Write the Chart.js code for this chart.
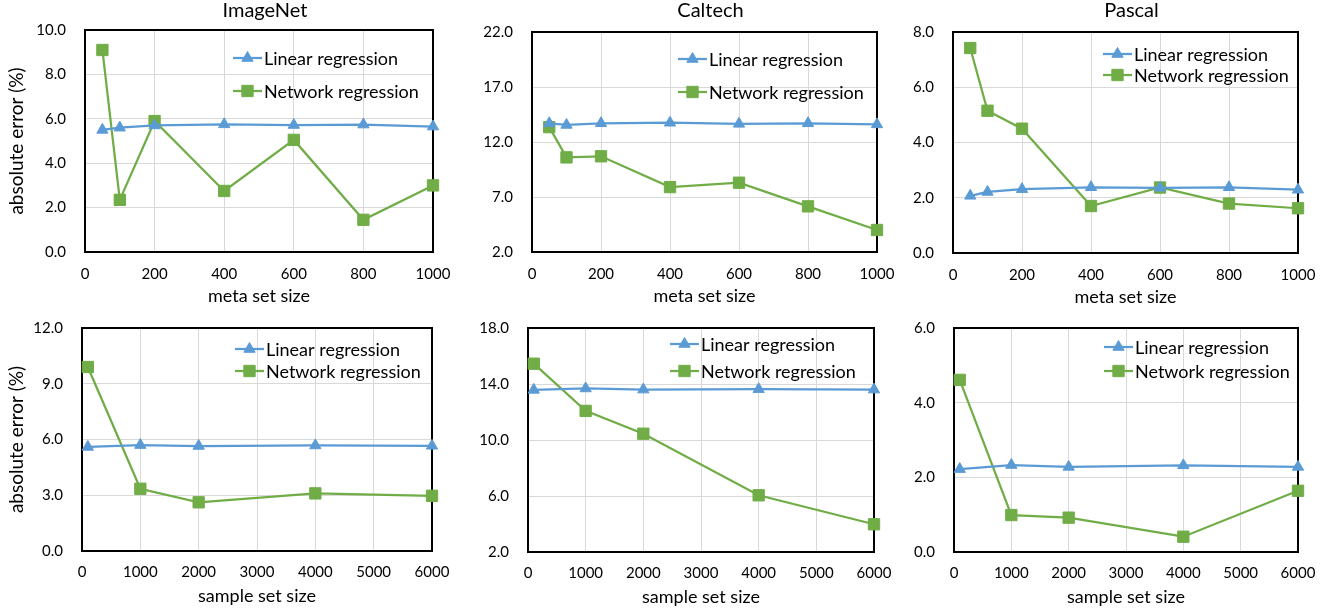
<!DOCTYPE html>
<html>
<head>
<meta charset="utf-8">
<script src="https://cdn.jsdelivr.net/npm/chart.js@4.4.1/dist/chart.umd.min.js"></script>
<style>
  body { margin: 0; background: #ffffff; width: 1325px; height: 609px; position: relative; overflow: hidden; }
  .panel { position: absolute; }
</style>
</head>
<body>
<script>
// x values
var metaSizes = [50, 100, 200, 400, 600, 800, 1000];
var sampleSizes = [100, 1000, 2000, 4000, 6000];

// absolute error (%)
var imagenetMetaLinear = [5.5, 5.6, 5.7, 5.75, 5.72, 5.74, 5.65];
var imagenetMetaNetwork = [9.1, 2.35, 5.9, 2.75, 5.05, 1.45, 3.0];
var caltechMetaLinear = [13.7, 13.55, 13.7, 13.75, 13.65, 13.7, 13.6];
var caltechMetaNetwork = [13.35, 10.6, 10.7, 7.9, 8.3, 6.15, 4.0];
var pascalMetaLinear = [2.07, 2.21, 2.31, 2.38, 2.36, 2.38, 2.29];
var pascalMetaNetwork = [7.42, 5.15, 4.5, 1.7, 2.37, 1.79, 1.62];

var imagenetSampleLinear = [5.6, 5.7, 5.65, 5.68, 5.66];
var imagenetSampleNetwork = [9.9, 3.35, 2.62, 3.1, 2.97];
var caltechSampleLinear = [13.58, 13.68, 13.6, 13.63, 13.6];
var caltechSampleNetwork = [15.45, 12.08, 10.45, 6.05, 3.98];
var pascalSampleLinear = [2.22, 2.33, 2.28, 2.32, 2.28];
var pascalSampleNetwork = [4.61, 0.99, 0.92, 0.41, 1.64];

var seriesNames = ["Linear regression", "Network regression"];
var titles = ["ImageNet", "Caltech", "Pascal"];

var FONT = "Lato";
var BLUE = "#5B9BD5";
var GREEN = "#70AD47";

// plot area (left, top, right, bottom) in page pixels, plus legend placement
var panels = [
  { title: titles[0], x: metaSizes, lin: imagenetMetaLinear, net: imagenetMetaNetwork, xMax: 1000, xStep: 200, yMin: 0, yMax: 10, yStep: 2,
    area: [85, 30, 433, 252], yWidth: 85, yTitle: true, xTitle: "meta set size", legend: [233, 58, 33] },
  { title: titles[1], x: metaSizes, lin: caltechMetaLinear, net: caltechMetaNetwork, xMax: 1000, xStep: 200, yMin: 2, yMax: 22, yStep: 5,
    area: [532, 32, 877, 252], yWidth: 60, yTitle: false, xTitle: "meta set size", legend: [678, 59, 33] },
  { title: titles[2], x: metaSizes, lin: pascalMetaLinear, net: pascalMetaNetwork, xMax: 1000, xStep: 200, yMin: 0, yMax: 8, yStep: 2,
    area: [953, 32, 1298, 253], yWidth: 60, yTitle: false, xTitle: "meta set size", legend: [1103, 54, 21] },
  { title: null, x: sampleSizes, lin: imagenetSampleLinear, net: imagenetSampleNetwork, xMax: 6000, xStep: 1000, yMin: 0, yMax: 12, yStep: 3,
    area: [82, 328, 432, 551], yWidth: 82, yTitle: true, xTitle: "sample set size", legend: [235, 349, 22] },
  { title: null, x: sampleSizes, lin: caltechSampleLinear, net: caltechSampleNetwork, xMax: 6000, xStep: 1000, yMin: 2, yMax: 18, yStep: 4,
    area: [528, 328, 874, 552], yWidth: 60, yTitle: false, xTitle: "sample set size", legend: [670, 344, 27] },
  { title: null, x: sampleSizes, lin: pascalSampleLinear, net: pascalSampleNetwork, xMax: 6000, xStep: 1000, yMin: 0, yMax: 6, yStep: 2,
    area: [954, 328, 1298, 552], yWidth: 60, yTitle: false, xTitle: "sample set size", legend: [1104, 347, 24] }
];

function toPoints(xs, ys) {
  var pts = [];
  for (var i = 0; i < xs.length; i++) pts.push({ x: xs[i], y: ys[i] });
  return pts;
}

function marker(ctx, style, x, y, r) {
  ctx.beginPath();
  if (style === "triangle") {
    ctx.moveTo(x, y - r);
    ctx.lineTo(x + r * 0.866, y + r * 0.5);
    ctx.lineTo(x - r * 0.866, y + r * 0.5);
    ctx.closePath();
  } else {
    var s = r * Math.SQRT1_2;
    ctx.rect(x - s, y - s, 2 * s, 2 * s);
  }
  ctx.fill();
  ctx.stroke();
}

// black frame around the plot area, title above it
var frame = {
  id: "frame",
  beforeDatasetsDraw: function (chart, args, opts) {
    var a = chart.chartArea, ctx = chart.ctx;
    ctx.save();
    ctx.strokeStyle = "#000000";
    ctx.lineWidth = 2;
    ctx.strokeRect(a.left, a.top, a.right - a.left, a.bottom - a.top);
    if (opts.text) {
      ctx.fillStyle = "#000000";
      ctx.font = "20px " + FONT;
      ctx.textAlign = "center";
      ctx.textBaseline = "alphabetic";
      ctx.fillText(opts.text, (a.left + a.right) / 2 + 6, 17);
    }
    ctx.restore();
  }
};

// legend drawn inside the plot, Excel style
var insideLegend = {
  id: "insideLegend",
  afterDraw: function (chart, args, opts) {
    var ctx = chart.ctx;
    ctx.save();
    chart.data.datasets.forEach(function (ds, i) {
      var x = opts.x, y = opts.y + i * opts.gap;
      ctx.strokeStyle = ds.borderColor;
      ctx.lineWidth = ds.borderWidth;
      ctx.beginPath();
      ctx.moveTo(x, y);
      ctx.lineTo(x + 29, y);
      ctx.stroke();
      ctx.fillStyle = ds.backgroundColor;
      ctx.lineWidth = 1;
      marker(ctx, ds.pointStyle, x + 14.5, y, ds.pointRadius);
      ctx.fillStyle = "#000000";
      ctx.font = "18px " + FONT;
      ctx.textBaseline = "alphabetic";
      ctx.textAlign = "left";
      ctx.fillText(ds.label, x + 31, y + 6.5);
    });
    ctx.restore();
  }
};

var rightPad = 26;

panels.forEach(function (p) {
  var top = p.title ? 0 : 315;
  var xHeight = p.title ? 56 : 58;
  var left = p.area[0] - p.yWidth;
  var width = p.yWidth + (p.area[2] - p.area[0]) + rightPad;
  var height = (p.area[1] - top) + (p.area[3] - p.area[1]) + xHeight;

  var div = document.createElement("div");
  div.className = "panel";
  div.style.left = left + "px";
  div.style.top = top + "px";
  div.style.width = width + "px";
  div.style.height = height + "px";
  var canvas = document.createElement("canvas");
  div.appendChild(canvas);
  document.body.appendChild(div);

  new Chart(canvas.getContext("2d"), {
    type: "line",
    data: {
      datasets: [
        {
          label: seriesNames[0],
          data: toPoints(p.x, p.lin),
          borderColor: BLUE,
          backgroundColor: BLUE,
          borderWidth: 2.25,
          pointStyle: "triangle",
          pointRadius: 6.5,
          pointBorderWidth: 1,
          clip: false
        },
        {
          label: seriesNames[1],
          data: toPoints(p.x, p.net),
          borderColor: GREEN,
          backgroundColor: GREEN,
          borderWidth: 2.25,
          pointStyle: "rect",
          pointRadius: 8,
          pointBorderWidth: 1,
          clip: false
        }
      ]
    },
    options: {
      responsive: true,
      maintainAspectRatio: false,
      animation: false,
      layout: { padding: { top: p.area[1] - top, right: rightPad, bottom: 0, left: 0 } },
      plugins: {
        legend: { display: false },
        tooltip: { enabled: false },
        title: { display: false },
        frame: { text: p.title },
        insideLegend: { x: p.legend[0] - left, y: p.legend[1] - top, gap: p.legend[2] }
      },
      scales: {
        x: {
          type: "linear",
          min: 0,
          max: p.xMax,
          afterFit: function (scale) {
            scale.height = xHeight;
            scale.paddingLeft = 0;
            scale.paddingRight = 0;
          },
          ticks: {
            stepSize: p.xStep,
            padding: p.title ? 13 : 12,
            color: "#000000",
            maxRotation: 0,
            font: { family: FONT, size: 15 },
            callback: function (v) { return String(v); }
          },
          grid: { color: "#D9D9D9", lineWidth: 1, drawTicks: false },
          border: { display: false },
          title: {
            display: true,
            text: p.xTitle,
            color: "#000000",
            font: { family: FONT, size: 18 },
            padding: { top: 0, bottom: p.title ? 1 : 2 }
          }
        },
        y: {
          min: p.yMin,
          max: p.yMax,
          afterFit: function (scale) {
            scale.width = p.yWidth;
            scale.paddingTop = 0;
            scale.paddingBottom = 0;
          },
          ticks: {
            stepSize: p.yStep,
            padding: 19,
            color: "#000000",
            font: { family: FONT, size: 15 },
            callback: function (v) { return Number(v).toFixed(1); }
          },
          grid: { color: "#D9D9D9", lineWidth: 1, drawTicks: false },
          border: { display: false },
          title: {
            display: p.yTitle,
            text: "absolute error (%)",
            color: "#000000",
            font: { family: FONT, size: 19 },
            padding: { top: 5, bottom: 0 }
          }
        }
      }
    },
    plugins: [frame, insideLegend]
  });
});
</script>
</body>
</html>
